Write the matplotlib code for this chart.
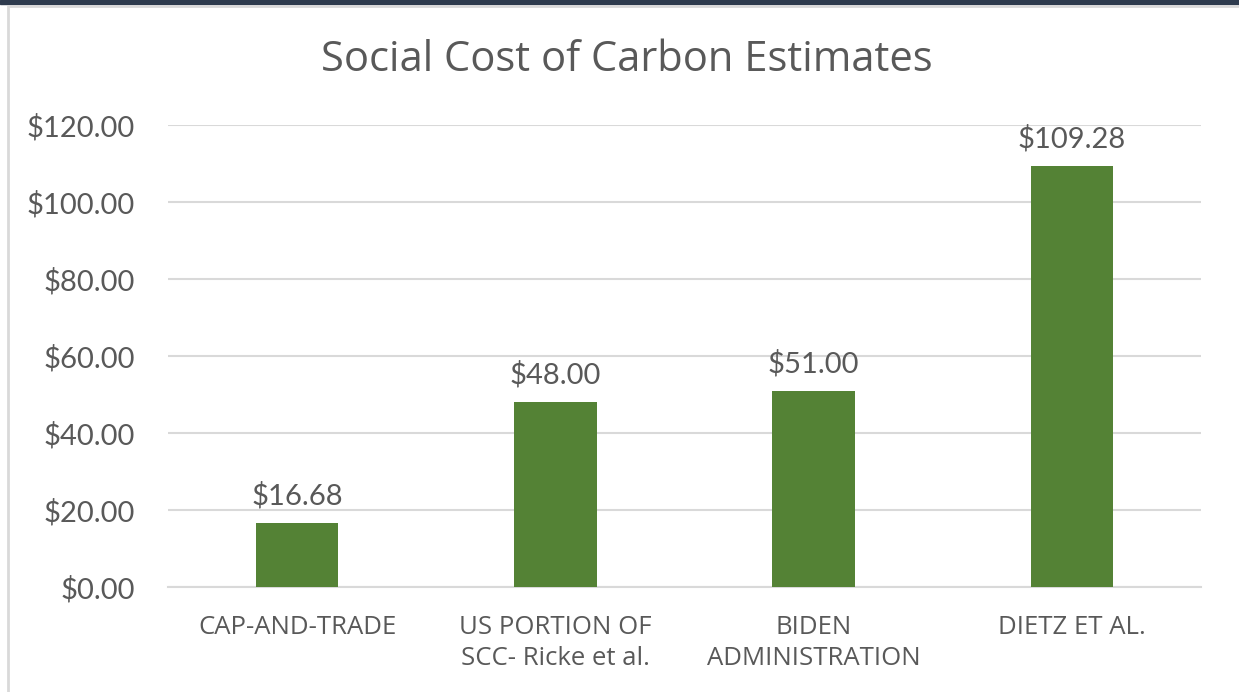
import matplotlib.pyplot as plt
from matplotlib.patches import Rectangle

categories = ['CAP-AND-TRADE', 'US PORTION OF\nSCC- Ricke et al.',
              'BIDEN\nADMINISTRATION', 'DIETZ ET AL.']
values = [16.68, 48.00, 51.00, 109.28]
yticks = [0, 20, 40, 60, 80, 100, 120]

bar_color = '#548235'
text_color = '#595959'
grid_color = '#d9d9d9'

fig = plt.figure(figsize=(12.39, 6.92), dpi=100)
ax = fig.add_axes([168 / 1239, 1 - 587 / 692, (1201 - 168) / 1239, (587 - 125) / 692])

x = range(len(categories))
bars = ax.bar(x, values, width=0.32, color=bar_color, zorder=3)

for b, v in zip(bars, values):
    ax.text(b.get_x() + b.get_width() / 2, v + 3.5, f'${v:,.2f}',
            ha='center', va='bottom', fontsize=21, color=text_color,
            family='Lato')

ax.set_xlim(-0.5, 3.5)
ax.set_ylim(0, 120)
ax.set_yticks(yticks)
ax.set_yticklabels([f'${t:.2f}' for t in yticks], fontsize=21,
                   color=text_color, family='Lato')
ax.set_xticks(list(x))
ax.set_xticklabels(categories, fontsize=18.5, color=text_color,
                   family='Open Sans', linespacing=1.35)
ax.tick_params(axis='both', length=0)
ax.tick_params(axis='y', pad=24)
ax.tick_params(axis='x', pad=20)
for lbl in ax.get_xticklabels():
    lbl.set_va('top')

ax.grid(axis='y', color=grid_color, linewidth=1.5, zorder=0)
for s in ['top', 'right', 'left']:
    ax.spines[s].set_visible(False)
ax.spines['bottom'].set_color(grid_color)
ax.spines['bottom'].set_linewidth(1.5)

fig.text(627 / 1239, 1 - 60 / 692, 'Social Cost of Carbon Estimates',
         ha='center', va='center', fontsize=30, color=text_color,
         family='Open Sans')

# dark strip along the top and light frame
fig.patches.append(Rectangle((0, 1 - 4 / 692), 1, 4 / 692, transform=fig.transFigure,
                             color='#2e3b4e', zorder=5))
fig.patches.append(Rectangle((8 / 1239, -0.01), 1.1, 1 - 6 / 692 + 0.01,
                             transform=fig.transFigure, fill=False,
                             edgecolor='#d9d9d9', linewidth=2, zorder=5))

fig.savefig('out.png', dpi=100)
